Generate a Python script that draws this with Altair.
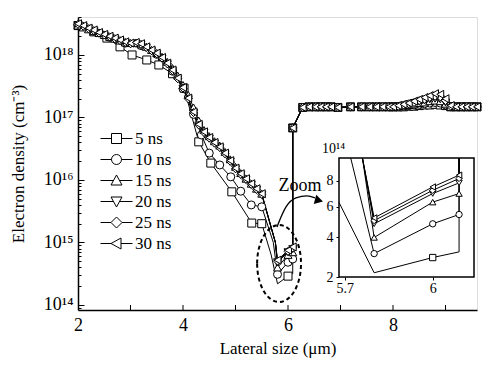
import altair as alt
import pandas as pd

SERIES = ["5 ns", "10 ns", "15 ns", "20 ns", "25 ns", "30 ns"]
SHAPES = ["square", "circle", "triangle-up", "triangle-down", "diamond", "triangle-left"]
FONT = "Liberation Serif"

# ---- main descending part (log10 of electron density, cm^-3) ----
X5 = [2.0, 2.3, 2.55, 2.8, 3.03, 3.31, 3.54, 3.8, 4.02, 4.30, 4.53, 4.93, 5.31, 5.50]
LOG5 = [18.47, 18.37, 18.27, 18.13, 18.00, 17.92, 17.84, 17.70, 17.47, 16.61, 16.27, 15.81, 15.31, 15.30]

X10 = [2.0, 2.3, 2.6, 2.9, 3.2, 3.5, 3.8, 4.0, 4.2, 4.35, 4.5, 4.7, 4.91, 5.1, 5.3, 5.5]
LOG10 = [18.48, 18.38, 18.28, 18.19, 18.15, 18.01, 17.74, 17.46, 17.05, 16.72, 16.43, 16.24, 16.05, 15.82, 15.60, 15.57]

X_DENSE = [2.0, 2.1, 2.2, 2.3, 2.4, 2.5, 2.6, 2.7, 2.8, 2.9, 3.0, 3.1, 3.2, 3.3, 3.4, 3.5, 3.6, 3.7,
           3.8, 3.9, 4.0, 4.1, 4.2, 4.3, 4.4, 4.5, 4.6, 4.7, 4.8, 4.9, 5.0, 5.1, 5.2, 5.3, 5.4, 5.5]
LOG15 = [18.47, 18.44, 18.41, 18.38, 18.35, 18.32, 18.29, 18.26, 18.23, 18.20, 18.19, 18.20, 18.17, 18.13,
         18.08, 18.03, 17.97, 17.89, 17.79, 17.67, 17.52, 17.36, 17.16, 16.95, 16.80, 16.70, 16.62, 16.55,
         16.45, 16.33, 16.21, 16.11, 16.02, 15.94, 15.86, 15.78]
LOG20 = [18.48, 18.45, 18.42, 18.38, 18.34, 18.31, 18.28, 18.25, 18.22, 18.19, 18.17, 18.18, 18.16, 18.11,
         18.06, 18.01, 17.94, 17.85, 17.74, 17.61, 17.46, 17.29, 17.07, 16.87, 16.75, 16.66, 16.58, 16.51,
         16.41, 16.29, 16.17, 16.08, 16.00, 15.92, 15.84, 15.76]
LOG25 = [18.49, 18.46, 18.42, 18.39, 18.35, 18.32, 18.29, 18.26, 18.23, 18.20, 18.18, 18.19, 18.17, 18.12,
         18.07, 18.02, 17.95, 17.86, 17.75, 17.62, 17.47, 17.30, 17.08, 16.88, 16.76, 16.67, 16.59, 16.52,
         16.42, 16.30, 16.18, 16.09, 16.01, 15.93, 15.85, 15.77]
LOG30 = [18.50, 18.47, 18.43, 18.40, 18.36, 18.33, 18.30, 18.27, 18.24, 18.21, 18.19, 18.20, 18.18, 18.13,
         18.08, 18.03, 17.96, 17.87, 17.76, 17.63, 17.48, 17.31, 17.09, 16.89, 16.77, 16.68, 16.60, 16.53,
         16.43, 16.31, 16.19, 16.10, 16.02, 15.94, 15.86, 15.78]

# ---- minimum region (values in 1e14 cm^-3) ----
ENTRY_X = [5.68, 5.72, 5.76, 5.76, 5.76, 5.76]
ENTRY_V = [6.3, 10.0, 10.0, 10.0, 10.0, 10.0]
TAIL_X = [5.8, 6.0, 6.09]
TAIL_V = [[2.18, 2.89, 3.18], [3.09, 4.82, 5.44], [3.98, 6.32, 6.97],
          [4.82, 6.97, 7.82], [5.03, 7.22, 8.19], [5.21, 7.49, 8.47]]
TAIL_MARK = [[False, True, False], [True, True, True], [True, True, True],
             [True, True, True], [True, True, True], [True, True, True]]
INSET_TOP = 10.0
JUMP_X = 6.09
JUMP_TOP = 6.8e16

# ---- plateau ----
FLAT_A_X = [6.28, 6.40, 6.52, 6.62, 6.72, 6.82, 6.95, 7.19, 7.40, 7.55, 7.68, 7.80, 7.92]
FLAT_A_LOG = [17.16, 17.17, 17.17, 17.17, 17.17, 17.17, 17.16, 17.17, 17.17, 17.17, 17.17, 17.17, 17.17]
FLAT_B_X = [8.0, 8.1, 8.2, 8.3, 8.4, 8.5, 8.6, 8.7, 8.8, 8.9, 9.0, 9.1, 9.2, 9.3, 9.4, 9.5, 9.6]
FLAT_B_LOG = [
    [17.17, 17.17, 17.17, 17.18, 17.18, 17.19, 17.20, 17.20, 17.21, 17.20, 17.19, 17.17, 17.17, 17.17, 17.17, 17.17, 17.17],
    [17.17, 17.17, 17.18, 17.19, 17.20, 17.21, 17.22, 17.23, 17.24, 17.23, 17.20, 17.17, 17.17, 17.17, 17.17, 17.17, 17.17],
    [17.17, 17.18, 17.19, 17.20, 17.21, 17.23, 17.24, 17.26, 17.27, 17.26, 17.22, 17.17, 17.17, 17.17, 17.17, 17.17, 17.17],
    [17.17, 17.18, 17.19, 17.21, 17.23, 17.25, 17.27, 17.29, 17.30, 17.29, 17.24, 17.18, 17.17, 17.17, 17.17, 17.17, 17.17],
    [17.17, 17.18, 17.20, 17.22, 17.24, 17.27, 17.29, 17.32, 17.34, 17.33, 17.27, 17.18, 17.17, 17.17, 17.17, 17.17, 17.17],
    [17.17, 17.19, 17.21, 17.23, 17.26, 17.29, 17.32, 17.35, 17.38, 17.37, 17.30, 17.19, 17.17, 17.17, 17.17, 17.17, 17.17],
]

HEADS = [(X5, LOG5), (X10, LOG10), (X_DENSE, LOG15), (X_DENSE, LOG20), (X_DENSE, LOG25), (X_DENSE, LOG30)]

# axis ticks on the x axis (drawn inward)
X_TICKS = [3, 4, 5, 6, 7, 8, 9]

# annotation
ELLIPSE_X, ELLIPSE_Y = [5.83], [4.6e14]
ARROW_X = [5.79, 5.962, 6.152, 6.362, 6.514]
ARROW_Y = [1.77e15, 3.70e15, 5.15e15, 5.55e15, 5.15e15]
HEAD_X, HEAD_Y = [6.59], [4.7e15]
ZOOM_X, ZOOM_Y = [6.23], [7.9e15]

rows = []
for i, s in enumerate(SERIES):
    def add(x, y, m):
        rows.append({"series": s, "idx": len(rows), "x": x, "y": y, "mark": m})
    xs, ls = HEADS[i]
    for x, lv in zip(xs, ls):
        add(x, 10 ** lv, True)
    add(ENTRY_X[i], ENTRY_V[i] * 1e14, False)
    for x, v, m in zip(TAIL_X, TAIL_V[i], TAIL_MARK[i]):
        add(x, v * 1e14, m)
    add(JUMP_X, INSET_TOP * 1e14, False)
    add(JUMP_X, JUMP_TOP, True)
    for x, lv in zip(FLAT_A_X, FLAT_A_LOG):
        add(x, 10 ** lv, True)
    for x, lv in zip(FLAT_B_X, FLAT_B_LOG[i]):
        add(x, 10 ** lv, True)
df = pd.DataFrame(rows)

W, H = 399, 293
XDOM = [2.0, 9.6]
YDOM = [8.3e13, 4.05e18]
xs_main = alt.Scale(domain=XDOM, nice=False, zero=False)
ys_main = alt.Scale(type="log", domain=YDOM, nice=False)

SUP = {"14": "10¹⁴", "15": "10¹⁵", "16": "10¹⁶", "17": "10¹⁷", "18": "10¹⁸"}
ylab = "''"
for e in ["14", "15", "16", "17", "18"]:
    ylab = f"(abs(datum.value - 1e{e}) < 1e{int(e)-3}) ? '{SUP[e]}' : " + ylab
ytick_vals = []
for e in range(13, 19):
    for m in range(1, 10):
        v = m * 10 ** e
        if YDOM[0] <= v <= YDOM[1]:
            ytick_vals.append(v)
major_test = "abs(log(datum.value)/LN10 - round(log(datum.value)/LN10)) < 0.001"

base = alt.Chart(df)

lines = base.mark_line(color="black", strokeWidth=1).encode(
    x=alt.X("x:Q", scale=xs_main, axis=alt.Axis(
        values=[2, 4, 6, 8], ticks=False, grid=False, domain=True, domainColor="black", domainWidth=1.5,
        labelFont=FONT, labelFontSize=18, labelColor="black", labelPadding=6, labelFlush=False,
        title="Lateral size (μm)", titleFont=FONT, titleFontSize=17, titleFontWeight="normal",
        titleColor="black", titlePadding=6)),
    y=alt.Y("y:Q", scale=ys_main, axis=alt.Axis(
        values=[1e14, 1e15, 1e16, 1e17, 1e18], labelExpr=ylab, ticks=False, grid=False, domain=True,
        domainColor="black", domainWidth=1.5, labelFont=FONT, labelFontSize=18, labelColor="black",
        labelPadding=5, title="Electron density (cm⁻³)", titleFont=FONT, titleFontSize=17,
        titleFontWeight="normal", titleColor="black", titlePadding=16)),
    detail="series:N",
    order="idx:Q",
)

points = base.transform_filter("datum.mark").mark_point(
    fill="white", stroke="black", strokeWidth=1, size=64, opacity=1, filled=False
).encode(
    x=alt.X("x:Q", scale=xs_main, axis=None),
    y=alt.Y("y:Q", scale=ys_main, axis=alt.Axis(
        orient="right", offset=-W, values=ytick_vals, labels=False, domain=False, grid=False,
        tickSize={"condition": {"test": major_test, "value": 6}, "value": 3},
        tickColor="black", tickWidth=1, title=None)),
    shape=alt.Shape("series:N", scale=alt.Scale(domain=SERIES, range=SHAPES), legend=None),
)

xticks = alt.Chart(pd.DataFrame({"x": X_TICKS})).mark_rule(color="black", strokeWidth=1).encode(
    x=alt.X("x:Q", scale=xs_main, axis=None),
    y=alt.value(H - 5), y2=alt.value(H),
)

# legend symbols: line stubs with the marker
LEGEND_PATHS = [
    "M-3.2,0H-1M1,0H3.2M-1,-1H1V1H-1Z",
    "M-3.2,0H-1M1,0H3.2M1,0A1,1 0 1,1 -1,0A1,1 0 1,1 1,0Z",
    "M-3.2,0H-0.6M0.6,0H3.2M0,-1.1L1.1,0.9H-1.1Z",
    "M-3.2,0H-0.6M0.6,0H3.2M0,1.1L1.1,-0.9H-1.1Z",
    "M-3.2,0H-1.1M1.1,0H3.2M0,-1.1L1.1,0L0,1.1L-1.1,0Z",
    "M-3.2,0H-1.1M0.9,-1.1V1.1L-1.1,0ZM0.9,0H3.2",
]
legend_layer = alt.Chart(pd.DataFrame({"series": SERIES})).mark_point(opacity=0).encode(
    shape=alt.Shape("series:N", scale=alt.Scale(domain=SERIES, range=LEGEND_PATHS),
                    legend=alt.Legend(orient="none", legendX=30, legendY=113, title=None,
                                      symbolSize=100, symbolFillColor="white", symbolStrokeColor="black",
                                      symbolStrokeWidth=1, symbolOpacity=1, labelFont=FONT,
                                      labelFontSize=17, labelColor="black", labelOffset=10,
                                      rowPadding=3, padding=0)),
)

ax_none_x = alt.X("x:Q", scale=xs_main, axis=None)
ax_none_y = alt.Y("y:Q", scale=ys_main, axis=None)

ELLIPSE_PATH = "M-0.57,0A0.57,1 0 1,1 0.57,0A0.57,1 0 1,1 -0.57,0Z"
ellipse = alt.Chart(pd.DataFrame({"x": ELLIPSE_X, "y": ELLIPSE_Y})).mark_point(
    shape=ELLIPSE_PATH, size=5929, stroke="black", strokeWidth=2, strokeDash=[4, 3],
    filled=False, opacity=1).encode(x=ax_none_x, y=ax_none_y)

arrow = alt.Chart(pd.DataFrame({"x": ARROW_X, "y": ARROW_Y})).mark_line(
    color="black", strokeWidth=1.3, interpolate="monotone").encode(x=ax_none_x, y=ax_none_y)
arrow_head = alt.Chart(pd.DataFrame({"x": HEAD_X, "y": HEAD_Y})).mark_point(
    shape="triangle-right", size=90, filled=True, color="black", opacity=1, angle=15).encode(
    x=ax_none_x, y=ax_none_y)
zoom_text = alt.Chart(pd.DataFrame({"x": ZOOM_X, "y": ZOOM_Y, "t": ["Zoom"]})).mark_text(
    font=FONT, fontSize=18, color="black", align="center", baseline="middle").encode(
    x=ax_none_x, y=ax_none_y, text="t:N")

# ---- inset ----
IX_DOM = [5.68, 6.141]
IY_DOM = [2, 10]
IX_RANGE = [261, 396]
IY_RANGE = [260, 141]
ixs = alt.Scale(domain=IX_DOM, range=IX_RANGE, nice=False, zero=False)
iys = alt.Scale(type="pow", exponent=0.5, domain=IY_DOM, range=IY_RANGE, nice=False, zero=False)

inset_box = alt.Chart(pd.DataFrame({"x": [IX_DOM[0]], "x2": [IX_DOM[1]], "y": [IY_DOM[0]], "y2": [IY_DOM[1]]})).mark_rect(
    fill="white", stroke="black", strokeWidth=1.5).encode(
    x=alt.X("x:Q", scale=ixs, axis=alt.Axis(
        orient="bottom", offset=IY_RANGE[0] - H, values=[5.7, 6.0],
        labelExpr="datum.value > 5.9 ? '6' : '5.7'",
        domain=False, grid=False, tickSize=3, tickColor="black", labelFont=FONT, labelFontSize=14,
        labelColor="black", labelPadding=1, title=None)),
    x2="x2:Q",
    y=alt.Y("y:Q", scale=iys, axis=alt.Axis(
        orient="left", offset=-IX_RANGE[0], values=[2, 4, 6, 8], domain=False, grid=False, tickSize=3,
        tickColor="black", labelFont=FONT, labelFontSize=14, labelColor="black", labelPadding=3,
        title="10¹⁴", titleAngle=0, titleX=-6, titleY=131, titleAlign="center", titleBaseline="middle",
        titleFont=FONT, titleFontSize=14, titleFontWeight="normal", titleColor="black")),
    y2="y2:Q",
)

inset_base = base.transform_filter(
    "datum.x >= 5.679 && datum.x <= 6.1 && datum.y <= 1.0001e15"
).transform_calculate(yi="datum.y / 1e14")

inset_lines = inset_base.mark_line(color="black", strokeWidth=1).encode(
    x=alt.X("x:Q", scale=ixs, axis=None),
    y=alt.Y("yi:Q", scale=iys, axis=None),
    detail="series:N", order="idx:Q")
inset_points = inset_base.transform_filter("datum.mark").mark_point(
    fill="white", stroke="black", strokeWidth=1, size=40, opacity=1, filled=False).encode(
    x=alt.X("x:Q", scale=ixs, axis=None),
    y=alt.Y("yi:Q", scale=iys, axis=None),
    shape=alt.Shape("series:N", scale=alt.Scale(domain=SERIES, range=SHAPES), legend=None))

chart = alt.layer(
    lines, points, xticks, legend_layer, ellipse, arrow, arrow_head, zoom_text,
    inset_box, inset_lines, inset_points
).resolve_scale(
    x="independent", y="independent", shape="independent"
).resolve_axis(
    x="independent", y="independent"
).resolve_legend(shape="independent").properties(
    width=W, height=H,
    autosize=alt.AutoSizeParams(type="none"),
    padding={"left": 70, "top": 9, "right": 13, "bottom": 51},
).configure_view(stroke="black", strokeWidth=2).configure_legend(
    labelFont=FONT
).configure(background="white")

chart.save("out.html", embed_options={"renderer": "svg", "actions": False})
